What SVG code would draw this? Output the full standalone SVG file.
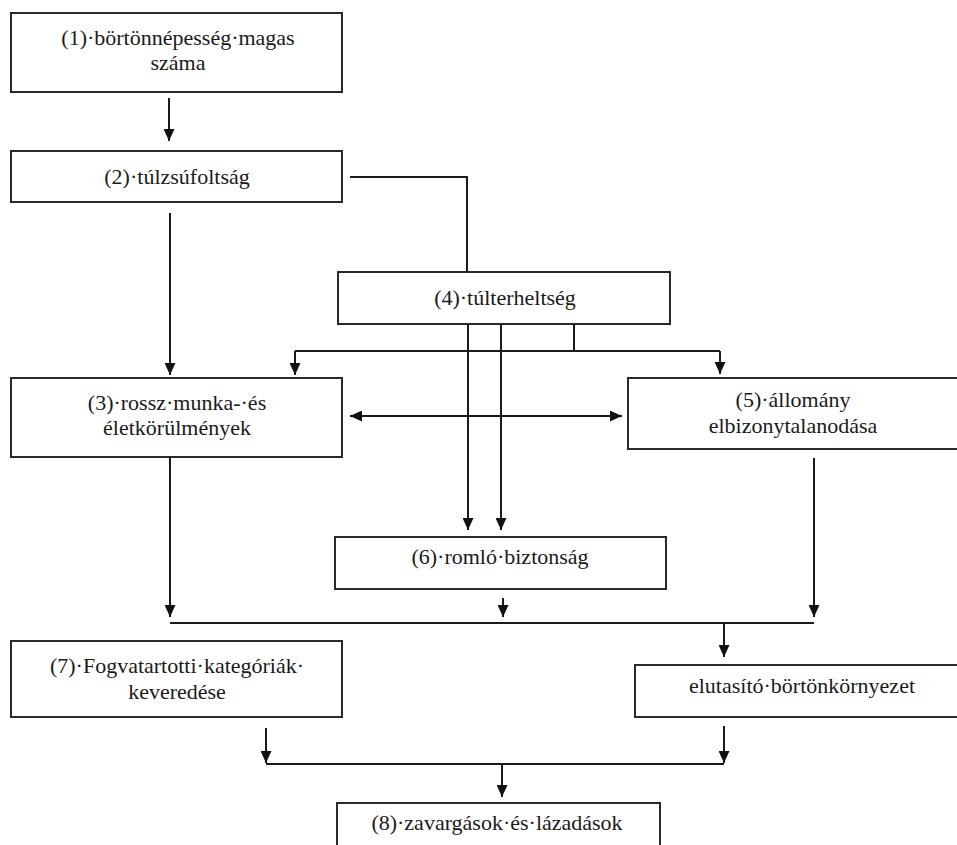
<svg xmlns="http://www.w3.org/2000/svg" width="957" height="845" viewBox="0 0 957 845">
<style>
.box{fill:#fff;stroke:#2a2a2a;stroke-width:2}
.t{font-family:"Liberation Serif","Times New Roman",serif;font-size:22px;fill:#1a1a1a;text-anchor:middle}
.c{fill:none;stroke:#1a1a1a;stroke-width:2}
.a{marker-end:url(#ah)}
</style>
<defs>
<marker id="ah" markerUnits="userSpaceOnUse" markerWidth="13" markerHeight="11" refX="12" refY="5.5" orient="auto">
<path d="M0,0 L12,5.5 L0,11 z" fill="#111"/>
</marker>
</defs>
<rect width="957" height="845" fill="#fff"/>
<g id="n1"><rect class="box" x="11" y="13" width="331" height="79"/><text class="t" x="178" y="45">(1)·börtönnépesség·magas</text><text class="t" x="178" y="70">száma</text></g>
<g id="n2"><rect class="box" x="11" y="151" width="331" height="51"/><text class="t" x="177" y="184">(2)·túlzsúfoltság</text></g>
<g id="n4"><rect class="box" x="338" y="272" width="332" height="52"/><text class="t" x="505" y="305">(4)·túlterheltség</text></g>
<g id="n3"><rect class="box" x="11" y="378" width="331" height="79"/><text class="t" x="177" y="410">(3)·rossz·munka-·és</text><text class="t" x="177" y="435">életkörülmények</text></g>
<g id="n5"><rect class="box" x="628" y="378" width="340" height="71"/><text class="t" x="793" y="407">(5)·állomány</text><text class="t" x="793" y="433">elbizonytalanodása</text></g>
<g id="n6"><rect class="box" x="335" y="537" width="331" height="52"/><text class="t" x="500" y="564">(6)·romló·biztonság</text></g>
<g id="n7"><rect class="box" x="11" y="641" width="331" height="76"/><text class="t" x="177" y="673">(7)·Fogvatartotti·kategóriák·</text><text class="t" x="177" y="699">keveredése</text></g>
<g id="n9"><rect class="box" x="635" y="665" width="335" height="52"/><text class="t" x="802" y="693">elutasító·börtönkörnyezet</text></g>
<g id="n8"><rect class="box" x="337" y="803" width="323" height="60"/><text class="t" x="497" y="830">(8)·zavargások·és·lázadások</text></g>
<g id="connectors">
<line class="c a" x1="169" y1="98" x2="169" y2="141"/>
<line class="c a" x1="170" y1="213" x2="170" y2="375"/>
<polyline class="c" points="350,177 467,177 467,272"/>
<line class="c" x1="574" y1="324" x2="574" y2="351"/>
<line class="c" x1="295" y1="351" x2="720" y2="351"/>
<line class="c a" x1="295" y1="351" x2="295" y2="375"/>
<line class="c a" x1="720" y1="351" x2="720" y2="374"/>
<line class="c a" x1="468" y1="324" x2="468" y2="530"/>
<line class="c a" x1="501" y1="324" x2="501" y2="530"/>
<line class="c a" x1="486" y1="416" x2="350" y2="416"/>
<line class="c a" x1="486" y1="416" x2="622" y2="416"/>
<line class="c a" x1="170" y1="457" x2="170" y2="617"/>
<line class="c a" x1="503" y1="598" x2="503" y2="617"/>
<line class="c a" x1="814" y1="458" x2="814" y2="617"/>
<line class="c" x1="170" y1="623" x2="814" y2="623"/>
<line class="c a" x1="724" y1="623" x2="724" y2="657"/>
<line class="c a" x1="266" y1="728" x2="266" y2="763"/>
<line class="c a" x1="724" y1="726" x2="724" y2="763"/>
<line class="c" x1="266" y1="764" x2="724" y2="764"/>
<line class="c a" x1="502" y1="764" x2="502" y2="797"/>
</g>
</svg>
